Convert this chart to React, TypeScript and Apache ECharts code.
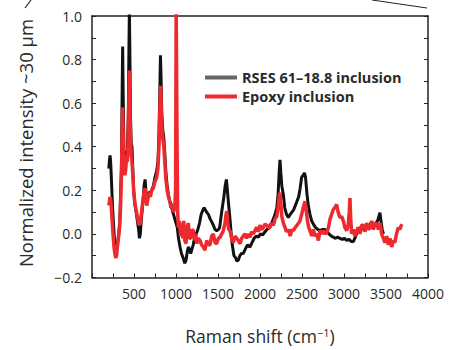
import React, { useEffect, useRef } from "react";
import * as echarts from "echarts";

const xTicks = [500, 1000, 1500, 2000, 2500, 3000, 3500, 4000];
const yTicks = [-0.2, 0.0, 0.2, 0.4, 0.6, 0.8, 1.0];
const seriesNames = ["RSES 61–18.8 inclusion", "Epoxy inclusion"];

const rsesData: [number, number][] = [
  [200, 0.30], [208, 0.34], [215, 0.36], [222, 0.33], [230, 0.26], [245, 0.12], [260, 0.02], [272, -0.05],
  [282, -0.08], [292, -0.07], [305, -0.04], [318, 0.0], [330, 0.05], [340, 0.18], [350, 0.30], [358, 0.62],
  [365, 0.86], [372, 0.62], [380, 0.38], [390, 0.28], [400, 0.30], [410, 0.38], [420, 0.36], [432, 0.55],
  [440, 0.86], [445, 1.03], [450, 0.86], [458, 0.55], [466, 0.42], [476, 0.40], [486, 0.30], [496, 0.20],
  [510, 0.14], [525, 0.10], [540, 0.06], [555, 0.02], [565, -0.02], [575, 0.0], [590, 0.08], [605, 0.14],
  [620, 0.22], [632, 0.25], [642, 0.20], [652, 0.15], [665, 0.17], [680, 0.19], [695, 0.19], [710, 0.20],
  [730, 0.22], [750, 0.26], [770, 0.29], [785, 0.33], [797, 0.45], [807, 0.65], [815, 0.82], [822, 0.72],
  [830, 0.56], [842, 0.48], [855, 0.44], [868, 0.36], [880, 0.28], [895, 0.22], [910, 0.18], [925, 0.15],
  [940, 0.14], [955, 0.11], [970, 0.09], [985, 0.07], [1000, 0.05], [1015, 0.03], [1030, -0.02], [1048, -0.06],
  [1065, -0.09], [1085, -0.11], [1105, -0.135], [1120, -0.12], [1135, -0.08], [1147, -0.06], [1160, -0.07],
  [1175, -0.09], [1190, -0.07], [1205, -0.05], [1220, -0.02], [1240, 0.0], [1260, 0.02], [1280, 0.05],
  [1300, 0.09], [1320, 0.11], [1335, 0.12], [1350, 0.11], [1365, 0.10], [1385, 0.09], [1405, 0.07],
  [1425, 0.055], [1445, 0.04], [1465, 0.02], [1485, 0.015], [1505, 0.02], [1520, 0.03], [1540, 0.09],
  [1555, 0.13], [1570, 0.17], [1585, 0.22], [1600, 0.25], [1612, 0.20], [1625, 0.14], [1640, 0.08],
  [1655, 0.01], [1670, -0.05], [1690, -0.10], [1710, -0.11], [1725, -0.125], [1742, -0.12], [1760, -0.10],
  [1780, -0.09], [1800, -0.09], [1825, -0.07], [1850, -0.05], [1880, -0.06], [1905, -0.04], [1930, -0.02],
  [1955, -0.01], [1980, -0.015], [2005, 0.0], [2030, -0.005], [2060, 0.01], [2080, 0.02], [2100, 0.025],
  [2120, 0.04], [2140, 0.05], [2160, 0.07], [2180, 0.09], [2200, 0.12], [2215, 0.18], [2228, 0.28],
  [2238, 0.34], [2248, 0.28], [2260, 0.22], [2278, 0.18], [2295, 0.12], [2315, 0.09], [2337, 0.075],
  [2360, 0.09], [2380, 0.10], [2400, 0.11], [2420, 0.13], [2440, 0.15], [2460, 0.17], [2478, 0.21],
  [2496, 0.26], [2515, 0.27], [2530, 0.28], [2542, 0.26], [2560, 0.18], [2575, 0.13], [2595, 0.09],
  [2615, 0.06], [2635, 0.045], [2660, 0.03], [2690, 0.02], [2714, 0.015], [2740, 0.02], [2770, 0.02],
  [2794, 0.015], [2820, 0.0], [2850, -0.01], [2873, -0.015], [2900, -0.02], [2925, -0.015], [2952, -0.02],
  [2980, -0.025], [3005, -0.02], [3032, -0.03], [3060, -0.025], [3085, -0.035], [3111, -0.035], [3140, -0.01],
  [3170, 0.02], [3200, 0.03], [3230, 0.02], [3260, 0.04], [3290, 0.03], [3320, 0.05], [3350, 0.03],
  [3380, 0.05], [3400, 0.06], [3415, 0.08], [3428, 0.097], [3440, 0.06], [3455, 0.02], [3470, 0.0],
];

const epoxyData: [number, number][] = [
  [200, 0.13], [208, 0.15], [215, 0.17], [222, 0.16], [230, 0.12], [240, 0.06], [250, 0.0], [262, -0.06],
  [272, -0.09], [282, -0.11], [292, -0.10], [302, -0.06], [315, -0.02], [328, 0.03], [340, 0.12], [350, 0.26],
  [358, 0.45], [365, 0.58], [372, 0.45], [380, 0.32], [390, 0.27], [400, 0.29], [410, 0.36], [420, 0.33],
  [432, 0.45], [440, 0.65], [445, 0.75], [450, 0.62], [458, 0.45], [466, 0.36], [476, 0.33], [486, 0.27],
  [496, 0.20], [510, 0.14], [525, 0.11], [540, 0.08], [555, 0.05], [565, 0.04], [575, 0.05], [590, 0.10],
  [605, 0.15], [620, 0.19], [632, 0.21], [642, 0.16], [652, 0.13], [665, 0.16], [680, 0.19], [695, 0.17],
  [710, 0.20], [730, 0.21], [750, 0.24], [770, 0.26], [785, 0.30], [797, 0.40], [807, 0.55], [815, 0.68],
  [822, 0.62], [830, 0.50], [842, 0.44], [855, 0.40], [868, 0.32], [880, 0.25], [895, 0.20], [910, 0.17],
  [925, 0.15], [940, 0.12], [955, 0.13], [970, 0.10], [985, 0.12], [995, 0.20], [1002, 1.05], [1008, 1.05],
  [1013, 0.40], [1020, 0.10], [1028, 0.03], [1040, 0.06], [1055, -0.01], [1067, 0.05], [1080, -0.02],
  [1092, 0.06], [1105, -0.03], [1119, -0.045], [1133, 0.03], [1147, 0.05], [1160, -0.02], [1175, -0.02],
  [1190, 0.02], [1206, 0.015], [1222, -0.03], [1236, 0.0], [1246, -0.045], [1266, -0.02], [1286, -0.03],
  [1305, -0.05], [1325, -0.06], [1345, -0.075], [1365, -0.03], [1385, -0.05], [1405, -0.05], [1425, -0.01],
  [1444, 0.0], [1465, -0.04], [1484, -0.045], [1505, -0.02], [1524, -0.015], [1545, 0.0], [1563, 0.015],
  [1583, 0.05], [1596, 0.09], [1605, 0.105], [1615, 0.06], [1628, 0.02], [1643, 0.015], [1662, -0.02],
  [1683, -0.04], [1702, -0.01], [1722, -0.02], [1742, -0.03], [1762, -0.045], [1782, -0.02], [1800, -0.01],
  [1821, 0.0], [1840, -0.02], [1860, 0.0], [1881, -0.015], [1900, 0.01], [1920, 0.0], [1940, 0.015],
  [1960, 0.03], [1980, 0.01], [2000, 0.04], [2020, 0.02], [2040, 0.03], [2060, 0.045], [2079, 0.04],
  [2100, 0.03], [2119, 0.03], [2140, 0.05], [2160, 0.04], [2180, 0.07], [2200, 0.08], [2215, 0.12],
  [2228, 0.17], [2238, 0.19], [2248, 0.14], [2260, 0.08], [2278, 0.05], [2298, 0.03], [2315, 0.01],
  [2337, 0.02], [2360, -0.01], [2380, 0.02], [2397, 0.015], [2420, 0.03], [2440, 0.04], [2460, 0.05],
  [2476, 0.06], [2496, 0.09], [2515, 0.12], [2536, 0.15], [2550, 0.11], [2565, 0.06], [2580, 0.03],
  [2595, 0.015], [2615, -0.01], [2635, 0.02], [2655, -0.01], [2675, 0.0], [2695, -0.03], [2715, 0.015],
  [2735, 0.0], [2754, 0.015], [2775, 0.0], [2794, 0.005], [2815, 0.03], [2835, 0.07], [2853, 0.09],
  [2870, 0.11], [2890, 0.12], [2913, 0.135], [2930, 0.10], [2952, 0.075], [2972, 0.08], [2992, 0.06],
  [3010, 0.03], [3032, 0.015], [3050, 0.04], [3062, 0.10], [3071, 0.165], [3080, 0.07], [3091, 0.0],
  [3110, 0.02], [3130, -0.01], [3151, 0.015], [3170, 0.03], [3190, 0.0], [3210, 0.04], [3230, 0.04],
  [3250, 0.01], [3270, 0.05], [3290, 0.02], [3310, 0.03], [3330, 0.06], [3350, 0.02], [3370, 0.05],
  [3389, 0.045], [3410, 0.02], [3430, 0.05], [3448, 0.0], [3468, -0.02], [3488, -0.04], [3508, -0.01],
  [3528, -0.05], [3548, -0.02], [3568, -0.06], [3587, -0.03], [3605, -0.04], [3625, 0.0], [3647, 0.03],
  [3665, 0.02], [3687, 0.045],
];

const FONT = "Open Sans";
const TEXT = "#2a2a2a";

export default function App() {
  const ref = useRef<HTMLDivElement>(null);
  useEffect(() => {
    if (!ref.current) return;
    const chart = echarts.init(ref.current, null, { renderer: "svg" });
    const fmtY = (v: number) => {
      if (Math.abs(v) < 1e-9) return "0.0";
      const s = v.toFixed(1);
      return s.startsWith("-") ? "\u2212" + s.slice(1) : s;
    };
    const xMin = 0;
    const xMax = xTicks[xTicks.length - 1];
    const yMin = yTicks[0];
    const yMax = yTicks[yTicks.length - 1];
    const tickCol = "#222";
    chart.setOption({
      animation: false,
      backgroundColor: "#fff",
      grid: { left: 92, right: 32, top: 16, bottom: 65, show: false },
      legend: {
        left: 200,
        top: 65,
        orient: "vertical",
        icon: "rect",
        itemWidth: 32,
        itemHeight: 4,
        itemGap: 4,
        textStyle: { fontFamily: FONT, fontWeight: "bold", fontSize: 14.5, color: TEXT },
        data: [
          { name: seriesNames[0], itemStyle: { color: "#666" } },
          { name: seriesNames[1], itemStyle: { color: "#ee2a2e" } },
        ],
      },
      xAxis: [
        {
          type: "value",
          min: xMin,
          max: xMax,
          interval: 500,
          name: "Raman shift (cm{sup|\u22121})",
          nameLocation: "middle",
          nameGap: 49,
          nameTextStyle: {
            fontFamily: FONT,
            fontSize: 17.5,
            color: TEXT,
            rich: { sup: { fontFamily: FONT, fontSize: 11, color: TEXT, verticalAlign: "top", padding: [0, 0, 8, 0] } },
          },
          axisLine: { show: true, onZero: false, lineStyle: { color: tickCol, width: 1.5 } },
          axisTick: { show: true, inside: true, length: 4, lineStyle: { color: tickCol } },
          minorTick: { show: true, splitNumber: 2, length: 4, lineStyle: { color: tickCol } },
          splitLine: { show: false },
          axisLabel: {
            margin: 9,
            fontFamily: FONT,
            fontSize: 14,
            color: TEXT,
            formatter: (v: number) => (xTicks.includes(v) ? String(v) : ""),
          },
        },
        {
          type: "value",
          position: "top",
          min: xMin,
          max: xMax,
          interval: 500,
          axisLine: { show: true, onZero: false, lineStyle: { color: tickCol, width: 1.5 } },
          axisTick: { show: false },
          axisLabel: { show: false },
          splitLine: { show: false },
        },
      ],
      yAxis: [
        {
          type: "value",
          min: yMin,
          max: yMax,
          interval: 0.2,
          axisLine: { show: true, onZero: false, lineStyle: { color: tickCol, width: 1.5 } },
          axisTick: { show: true, inside: true, length: 4, lineStyle: { color: tickCol } },
          minorTick: { show: true, splitNumber: 2, length: 4, lineStyle: { color: tickCol } },
          splitLine: { show: false },
          axisLabel: { margin: 10, fontFamily: FONT, fontSize: 14, color: TEXT, formatter: fmtY },
        },
        {
          type: "value",
          position: "right",
          min: yMin,
          max: yMax,
          interval: 0.2,
          axisLine: { show: true, onZero: false, lineStyle: { color: tickCol, width: 1.5 } },
          axisTick: { show: true, inside: true, length: 4, lineStyle: { color: tickCol } },
          minorTick: { show: true, splitNumber: 2, length: 4, lineStyle: { color: tickCol } },
          splitLine: { show: false },
          axisLabel: { show: false },
        },
      ],
      series: [
        {
          name: seriesNames[0],
          type: "line",
          data: rsesData,
          showSymbol: false,
          clip: true,
          lineStyle: { color: "#111", width: 3 },
          itemStyle: { color: "#111" },
          z: 2,
        },
        {
          name: seriesNames[1],
          type: "line",
          data: epoxyData,
          showSymbol: false,
          clip: true,
          lineStyle: { color: "#ee2a2e", width: 3.5 },
          itemStyle: { color: "#ee2a2e" },
          z: 3,
        },
      ],
      graphic: [
        {
          type: "text",
          x: 25,
          y: 143,
          rotation: Math.PI / 2,
          style: {
            text: "Normalized intensity ~30 μm",
            fontFamily: FONT,
            fontSize: 18.5,
            fill: TEXT,
            align: "center",
            verticalAlign: "middle",
          },
        },
        {
          type: "line",
          shape: { x1: 25, y1: 8, x2: 31, y2: 0 },
          style: { stroke: TEXT, lineWidth: 1.2 },
        },
        {
          type: "line",
          shape: { x1: 372, y1: 0, x2: 427, y2: 8 },
          style: { stroke: "#222", lineWidth: 1 },
        },
      ],
    });
    return () => chart.dispose();
  }, []);
  return (
    <div
      ref={ref}
      style={{ position: "fixed", left: 0, top: 0, width: 460, height: 350, background: "#fff" }}
    />
  );
}
